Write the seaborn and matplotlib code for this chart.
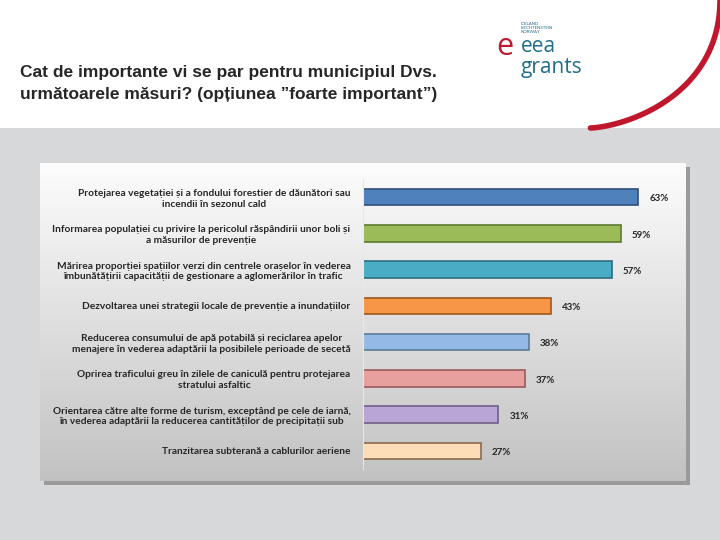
import numpy as np
import seaborn as sns
import matplotlib.pyplot as plt
import pandas as pd
from matplotlib.patches import Rectangle

# data
measures = [
    "Protejarea vegetației și a fondului forestier de dăunători sau\nincendii în sezonul cald",
    "Informarea populației cu privire la pericolul răspândirii unor boli și\na măsurilor de prevenție",
    "Mărirea proporției spațiilor verzi din centrele orașelor în vederea\nîmbunătățirii capacității de gestionare a aglomerărilor în trafic",
    "Dezvoltarea unei strategii locale de prevenție a inundațiilor",
    "Reducerea consumului de apă potabilă și reciclarea apelor\nmenajere în vederea adaptării la posibilele perioade de secetă",
    "Oprirea traficului greu în zilele de caniculă pentru protejarea\nstratului asfaltic",
    "Orientarea către alte forme de turism, exceptând pe cele de iarnă,\nîn vederea adaptării la reducerea cantităților de precipitații sub",
    "Tranzitarea subterană a cablurilor aeriene",
]
percent = [63, 59, 57, 43, 38, 37, 31, 27]
bar_colors = ["#4F81BD", "#9BBB59", "#4BACC6", "#F79646",
              "#95B9E6", "#E8A09E", "#B9A5D6", "#FDDCB8"]
edge_colors = ["#2F4F7A", "#5E7A2E", "#2A6F80", "#A0561A",
               "#5F7A9A", "#9A5A5A", "#6F5F85", "#8A6A4A"]

df = pd.DataFrame({"masura": measures, "procent": percent})

sns.set_style("white")
plt.rcParams['font.family'] = ['Lato', 'DejaVu Sans']

fig = plt.figure(figsize=(7.2, 5.4), dpi=100)
fig.patch.set_facecolor("#d6d8da")

# white slide header
fig.patches.append(Rectangle((0, 1 - 128 / 540), 1, 128 / 540, transform=fig.transFigure,
                             facecolor="white", edgecolor="none", zorder=0))
# red swoosh on the right
t = np.linspace(0, 1, 100)
sx = 1 - 0.18 * (1 - t) ** 2
sy = 1 - (128 - 128 * t ** 1.5) / 540
fig.lines.append(plt.Line2D(sx, sy, transform=fig.transFigure, color="#c0172c", lw=4, zorder=1))

title_font = ['Liberation Sans', 'DejaVu Sans']
fig.text(20 / 720, 1 - 73 / 540, "Cat de importante vi se par pentru municipiul Dvs.",
         family=title_font, fontweight='bold', fontsize=12.5, va='center', ha='left')
fig.text(20 / 720, 1 - 94 / 540, "următoarele măsuri? (opțiunea ”foarte important”)",
         family=title_font, fontweight='bold', fontsize=12.5, va='center', ha='left')

# logo
logo_font = ['Open Sans', 'DejaVu Sans']
fig.text(521 / 720, 1 - 47 / 540, "eea", color="#1f6e8c", fontsize=15, va='center', ha='left',
         family=logo_font)
fig.text(521 / 720, 1 - 67 / 540, "grants", color="#1f6e8c", fontsize=15, va='center', ha='left',
         family=logo_font)
fig.text(521 / 720, 1 - 28 / 540, "ICELAND\nLIECHTENSTEIN\nNORWAY", color="#1f6e8c", fontsize=3.2,
         va='center', ha='left', linespacing=1.1)
fig.text(505 / 720, 1 - 47 / 540, "e", color="#c0172c", fontsize=22, va='center', ha='center',
         family=logo_font)

# chart panel with gradient and shadow
panel_l, panel_r, panel_t, panel_b = 40, 686, 163, 481
fig.patches.append(Rectangle(((panel_l + 4) / 720, 1 - (panel_b + 4) / 540),
                             (panel_r - panel_l) / 720, (panel_b - panel_t) / 540,
                             transform=fig.transFigure, facecolor="#9a9a9a", edgecolor="none",
                             zorder=1))
bg = fig.add_axes([panel_l / 720, 1 - panel_b / 540, (panel_r - panel_l) / 720,
                   (panel_b - panel_t) / 540], zorder=2)
grad = np.linspace(1, 0, 256).reshape(-1, 1)
top_rgb = np.array([0.99, 0.99, 0.99])
bot_rgb = np.array([0.76, 0.76, 0.76])
img = top_rgb * grad[..., None] + bot_rgb * (1 - grad[..., None])
bg.imshow(img, aspect='auto', extent=[0, 1, 0, 1])
bg.set_axis_off()

# bar chart axes
ax_l, ax_r, ax_t, ax_b = 363, 680, 179, 469
ax = fig.add_axes([ax_l / 720, 1 - ax_b / 540, (ax_r - ax_l) / 720, (ax_b - ax_t) / 540], zorder=3)
ax.patch.set_alpha(0)
sns.barplot(data=df, x="procent", y="masura", hue="masura", palette=bar_colors,
            saturation=1, legend=False, width=0.45, ax=ax, dodge=False)
for bar, ec in zip(ax.patches, edge_colors):
    bar.set_edgecolor(ec)
    bar.set_linewidth(1.2)
ax.set_xlim(0, (ax_r - ax_l) / 4.37)
ax.set_ylim(len(measures) - 0.5, -0.5)
ax.set_xlabel("")
ax.set_ylabel("")
ax.set_xticks([])
for side in ["top", "right", "bottom"]:
    ax.spines[side].set_visible(False)
ax.spines["left"].set_color("#e8e8e8")
ax.tick_params(axis='y', length=0, pad=9)
for lbl in ax.get_yticklabels():
    lbl.set_multialignment('center')
    lbl.set_fontsize(7.3)
    lbl.set_fontweight('bold')
    lbl.set_color("#262626")

for i, v in enumerate(percent):
    ax.text(v + 2.5, i + 0.05, f"{v}%", va='center', ha='left', fontsize=7,
            fontweight='bold', color="#262626")

fig.savefig("out.png", dpi=100, facecolor=fig.get_facecolor())
